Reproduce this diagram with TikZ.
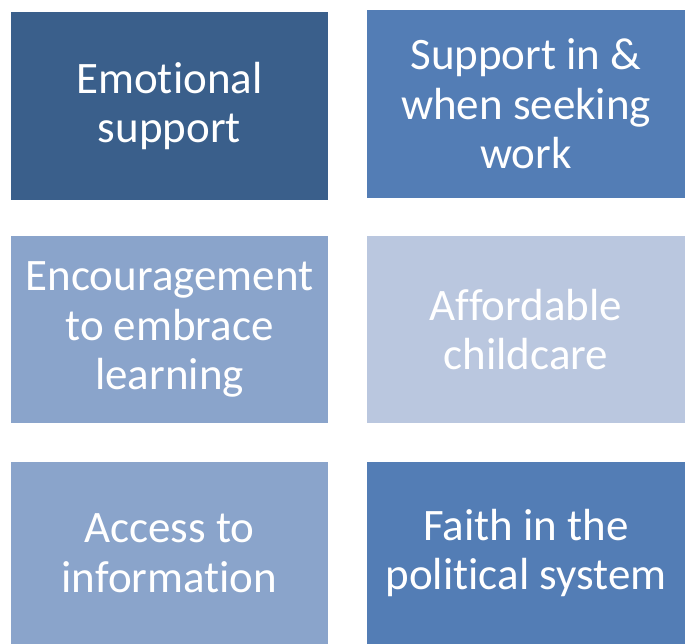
\documentclass[tikz,border=0pt]{standalone}
\usepackage{fontspec}
\usepackage{xcolor}
\setmainfont{Carlito}[Ligatures={NoCommon}]
\usetikzlibrary{positioning}
\definecolor{darkblue}{HTML}{3A5F8B}
\definecolor{midblue}{HTML}{537DB5}
\definecolor{softblue}{HTML}{8AA4CB}
\definecolor{paleblue}{HTML}{BAC7DF}

\begin{document}
\begin{tikzpicture}[x=1pt, y=-1pt,
    tile/.style={rectangle, inner sep=0pt, minimum width=317pt, text=white, align=center,
        font=\fontsize{45}{49.5}\selectfont}]
                            \useasboundingbox (0, 0) rectangle (686, 644);
                            \node[tile, fill=darkblue, minimum height=188pt] (1) at (169.5, 106) {Emotional\\support};
                            \node[tile, fill=midblue, minimum height=188pt, minimum width=318pt] (2) at (526, 104) {Support in \&\\when seeking\\work};
                            \node[tile, fill=softblue, minimum height=187pt] (3) at (169.5, 329.5) {Encouragement\\to embrace\\learning};
                            \node[tile, fill=paleblue, minimum height=187pt, minimum width=318pt] (4) at (526, 329.5) {Affordable\\childcare};
                            \node[tile, fill=softblue, minimum height=182pt] (5) at (169.5, 553) {Access to\\information};
                            \node[tile, fill=midblue, minimum height=182pt, minimum width=318pt] (6) at (526, 553) {Faith in the\\political system};
                        \end{tikzpicture}
\end{document}
